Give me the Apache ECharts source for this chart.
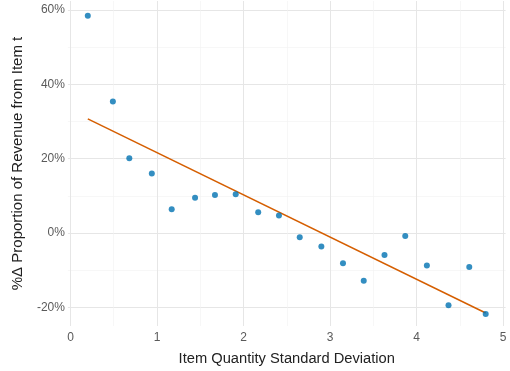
<!DOCTYPE html>
<html>
<head>
<meta charset="utf-8">
<script src="https://cdn.jsdelivr.net/npm/echarts@6/dist/echarts.min.js"></script>
<style>
html,body{margin:0;padding:0;background:#fff;}
#c{width:510px;height:371px;}
</style>
</head>
<body>
<div id="c"></div>
<script>
// Data
var sdX = [0.20, 0.49, 0.68, 0.94, 1.17, 1.44, 1.67, 1.91, 2.17, 2.41, 2.65, 2.90, 3.15, 3.39, 3.63, 3.87, 4.12, 4.37, 4.61, 4.80];
var pctY = [58.4, 35.4, 20.1, 16.0, 6.4, 9.5, 10.2, 10.4, 5.6, 4.7, -1.1, -3.6, -8.1, -12.8, -5.9, -0.8, -8.7, -19.4, -9.1, -21.8];
var fitX = [0.20, 4.80];
var fitY = [30.7, -21.5];
var xTicks = [0, 1, 2, 3, 4, 5];
var xMinor = [0.5, 1.5, 2.5, 3.5, 4.5];
var yTicks = [-20, 0, 20, 40, 60];
var yMinor = [-10, 10, 30, 50];

var points = sdX.map(function (x, i) { return [x, pctY[i]]; });
var fit = fitX.map(function (x, i) { return [x, fitY[i]]; });

var FONT = '"Liberation Sans", Arial, Helvetica, sans-serif';
var xMin = -0.03, xMax = 5.03, yMin = -25, yMax = 62.4;

var chart = echarts.init(document.getElementById('c'), null, {renderer: 'canvas'});
chart.setOption({
  animation: false,
  backgroundColor: '#ffffff',
  grid: {left: 67.9, right: 4.4, top: 1, bottom: 44.4, containLabel: false},
  xAxis: [{
    type: 'value', min: xMin, max: xMax,
    name: 'Item Quantity Standard Deviation', nameLocation: 'middle', nameGap: 25,
    nameTextStyle: {fontFamily: FONT, fontSize: 14.7, color: '#222222'},
    axisLine: {show: false},
    axisTick: {show: false, customValues: xTicks},
    axisLabel: {customValues: xTicks, fontFamily: FONT, fontSize: 12, color: '#5a5a5a', margin: 6},
    splitLine: {show: true, lineStyle: {color: '#e6e6e6', width: 1}}
  }, {
    type: 'value', min: xMin, max: xMax, position: 'bottom',
    axisLine: {show: false},
    axisTick: {show: false, customValues: xMinor},
    axisLabel: {show: false, customValues: xMinor},
    splitLine: {show: true, lineStyle: {color: '#f1f1f1', width: 0.6}}
  }],
  yAxis: [{
    type: 'value', min: yMin, max: yMax,
    name: '%\u0394 Proportion of Revenue from Item t', nameLocation: 'middle', nameGap: 43, nameRotate: 90,
    nameTextStyle: {fontFamily: FONT, fontSize: 15, color: '#222222'},
    axisLine: {show: false},
    axisTick: {show: false, customValues: yTicks},
    axisLabel: {customValues: yTicks, fontFamily: FONT, fontSize: 12, color: '#5a5a5a', margin: 3,
      formatter: function (v) { return v + '%'; }},
    splitLine: {show: true, lineStyle: {color: '#e6e6e6', width: 1}}
  }, {
    type: 'value', min: yMin, max: yMax, position: 'left',
    axisLine: {show: false},
    axisTick: {show: false, customValues: yMinor},
    axisLabel: {show: false, customValues: yMinor},
    splitLine: {show: true, lineStyle: {color: '#f1f1f1', width: 0.6}}
  }],
  series: [{
    type: 'line', data: fit, xAxisIndex: 0, yAxisIndex: 0,
    showSymbol: false, symbol: 'none',
    lineStyle: {color: '#D55E00', width: 1.5}, z: 2
  }, {
    type: 'scatter', data: points, xAxisIndex: 0, yAxisIndex: 0,
    symbol: 'circle', symbolSize: 6,
    itemStyle: {color: '#0072B2'}, z: 3
  }]
});
</script>
</body>
</html>
